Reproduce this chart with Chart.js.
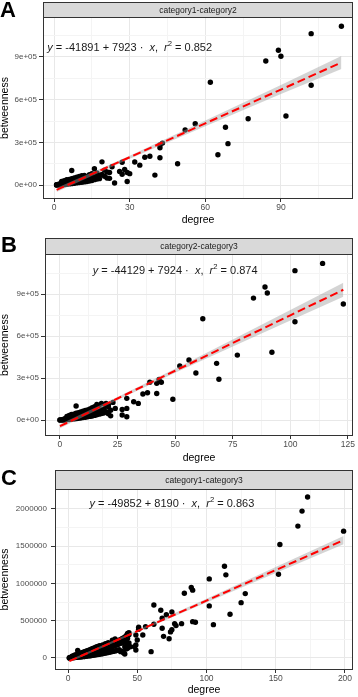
<!DOCTYPE html>
<html>
<head>
<meta charset="utf-8">
<script src="https://cdn.jsdelivr.net/npm/chart.js@4.4.1/dist/chart.umd.min.js"></script>
<style>
  html, body { margin: 0; padding: 0; background: #fff; overflow: hidden; }
  body { width: 358px; height: 697px; position: relative; }
  .panel { position: absolute; left: 0; }
  .tag { position: absolute; font: bold 22px/22px "Liberation Sans", Arial, sans-serif; color: #000; z-index: 2; }
</style>
</head>
<body>
<div class="panel" style="top:0"><canvas id="chartA" width="358" height="228"></canvas></div>
<div class="panel" style="top:225px"><canvas id="chartB" width="358" height="241"></canvas></div>
<div class="panel" style="top:465px"><canvas id="chartC" width="358" height="232"></canvas></div>
<div class="tag" style="left:0;top:-1px">A</div>
<div class="tag" style="left:1px;top:234px">B</div>
<div class="tag" style="left:1px;top:467px">C</div>
<script>
// panel A: category1-category2
const degA = [
  1,1,1, 2,2,2,2, 3,3,3,3, 4,4,4,4,4,
  5,5,5,5,5, 6,6,6,6,6, 7,7,7,7,7,
  8,8,8,8,8, 9,9,9,9,9, 10,10,10,10,10,
  11,11,11,11, 12,12,12,12,12, 13,13,13, 14,14,14,14,
  15,15,15,15, 16,16,16, 17,17,17, 18,18, 19,19, 20,20,
  21,21, 22,22, 23, 24, 26, 27,27, 28, 29,29, 30, 32,
  34, 36, 38, 40, 42,42,42, 43, 49, 52, 56, 62, 65,
  68, 69, 77, 84, 89, 90, 92, 102,102, 114
];
const btwA = [
  0,2000,1000, 0,3000,8000,1000, 2000,6000,12000,25000, 3000,9000,15000,30000,5000,
  5000,12000,20000,38000,8000, 8000,15000,25000,40000,12000, 10000,20000,30000,45000,102000,
  12000,25000,35000,50000,18000, 15000,28000,40000,55000,22000, 18000,32000,45000,60000,25000,
  20000,35000,48000,65000, 22000,38000,52000,68000,30000, 25000,42000,58000, 28000,45000,62000,72000,
  32000,50000,66000,80000, 38000,55000,115000, 42000,60000,85000, 45000,68000, 163000,75000, 105000,62000,
  92000,50000, 47000,88000, 129000, 14000, 96000, 160000,76000, 110000, 88000,25000, 80000, 162000,
  140000, 195000, 202000, 70000, 192000,262000,281000, 295000, 150000, 387000, 431000, 722000, 213000,
  406000, 291000, 466000, 872000, 947000, 905000, 485000, 1064000,701000, 1116000
];
const fitXA = [1, 30, 60, 90, 114];
const fitYA = [-33968, 195799, 433489, 671179, 861331];
const bandLoA = [-47968, 184799, 413489, 639179, 816331];
const bandHiA = [-19968, 206799, 453489, 703179, 906331];

// panel B: category2-category3
const degB = [
  0,0, 1,1,1, 2,2,2,2, 3,3,3,3, 4,4,4,4,4,
  5,5,5,5,5, 6,6,6,6,6, 7,7,7,7,7, 8,8,8,8,8,
  9,9,9,9,9, 10,10,10,10,10, 11,11,11,11, 12,12,12,12,12,
  13,13,13,13, 14,14,14,14, 15,15,15,15, 16,16,16, 17,17,17, 18,18,18,
  19,19, 20,20,20, 21,21,21, 22,22, 23, 24, 27,27, 29,29,29, 32, 34, 36, 38, 39,
  42,42, 43, 44, 49, 52, 56, 59, 62, 68, 69, 77, 84, 89, 90, 92, 102,102, 114, 123
];
const btwB = [
  0,0, 0,1000,3000, 0,4000,9000,2000, 2000,7000,14000,26000, 3000,10000,18000,32000,6000,
  5000,13000,22000,40000,9000, 8000,16000,27000,42000,13000, 10000,22000,32000,48000,100000, 12000,26000,37000,52000,18000,
  15000,30000,42000,58000,22000, 18000,34000,47000,63000,26000, 20000,37000,50000,68000, 23000,40000,55000,72000,30000,
  26000,45000,61000,80000, 29000,48000,65000,88000, 33000,52000,70000,95000, 38000,58000,112000, 42000,64000,105000, 46000,72000,118000,
  80000,50000, 119000,60000,100000, 95000,45000,110000, 70000,30000, 126000, 83000, 76000,36000, 155000,83000,24000, 131000, 119000, 186000, 195000, 270000,
  190000,262000, 290000, 270000, 148000, 386000, 429000, 336000, 724000, 405000, 291000, 464000, 871000, 950000, 907000, 484000, 1067000,702000, 1119000, 829000
];
const fitXB = [0, 25, 50, 75, 100, 123];
const fitYB = [-44129, 153971, 352071, 550171, 748271, 930523];
const bandLoB = [-58129, 142971, 337071, 525171, 710271, 880523];
const bandHiB = [-30129, 164971, 367071, 575171, 786271, 980523];

// panel C: category1-category3
const degC = [
  1,1,1, 2,2,2, 3,3,3,3, 4,4,4,4, 5,5,5,5, 6,6,6,6, 7,7,7,7,7,
  8,8,8,8, 9,9,9,9, 10,10,10,10, 11,11,11,11, 12,12,12,12,
  13,13,13,13, 14,14,14,14, 15,15,15,15, 16,16,16,16, 17,17,17,17,
  18,18,18,18, 19,19,19,19, 20,20,20,20, 21,21,21,21, 22,22,22,22, 23,23,23,23,
  24,24,24, 25,25,25,25, 26,26,26, 27,27,27,27, 28,28,28, 29,29,29,29, 30,30,30,
  31,31,31, 32,32,32,32, 33,33,33, 34,34,34,34, 35,35,35, 36,36,36,36, 37,37,37,
  38,38,38, 39,39,39, 40,40,40, 41,41,41, 42,42,42, 43,43,43,43, 44,44,44, 45,
  48, 49,49,49, 50, 51,51, 54, 56, 60, 62,62, 67, 68,68, 69, 71, 73, 74, 75,75, 77, 78, 82,
  84, 89, 90,90, 92, 102,102, 105, 113, 114, 117, 125, 128, 152, 153, 166, 169, 173, 199
];
const btwC = [
  0,1000,3000, 0,4000,10000, 2000,8000,15000,25000, 4000,12000,20000,32000, 6000,15000,25000,40000, 8000,18000,30000,45000, 10000,22000,35000,52000,100000,
  12000,26000,40000,58000, 14000,30000,45000,65000, 16000,34000,50000,72000, 18000,38000,55000,78000, 20000,42000,60000,85000,
  22000,46000,66000,92000, 25000,50000,72000,98000, 28000,55000,78000,105000, 30000,60000,85000,112000, 33000,65000,92000,120000,
  36000,70000,98000,128000, 40000,75000,105000,136000, 42000,80000,112000,145000, 45000,86000,118000,150000, 48000,92000,125000,158000, 52000,98000,132000,165000,
  55000,104000,140000, 58000,110000,148000,175000, 62000,116000,155000, 66000,122000,162000,190000, 70000,128000,170000, 74000,134000,178000,205000, 78000,140000,185000,
  82000,146000,192000, 86000,152000,200000,240000, 90000,160000,208000, 95000,168000,216000,255000, 100000,175000,225000, 105000,182000,232000,219000, 110000,190000,240000,
  85000,198000,250000, 90000,205000,260000, 70000,210000,270000, 54000,150000,280000, 120000,230000,300000, 130000,264000,330000,180000, 200000,310000,340000, 150000,
  152000, 107000,174000,309000, 242000, 385000,412000, 309000, 420000, 85000, 452000,711000, 640000, 533000,399000, 290000, 580000, 258000, 350000, 617000,380000, 460000, 434000, 460000,
  868000, 944000, 909000,487000, 479000, 1060000,698000, 447000, 1230000, 1114000, 587000, 742000, 863000, 1123000, 1521000, 1768000, 1969000, 2157000, 1700000
];
const fitXC = [1, 50, 100, 150, 199];
const fitYC = [-41662, 359648, 769148, 1178648, 1579958];
const bandLoC = [-56662, 345648, 744148, 1138648, 1524958];
const bandHiC = [-26662, 373648, 794148, 1218648, 1634958];

// fit labels
const intercepts = [-41891, -44129, -49852];
const slopes = [7923, 7924, 8190];
const r2s = [0.852, 0.874, 0.863];
const stripNames = ['category1-category2', 'category2-category3', 'category1-category3'];

// ticks
const xMajorA = [0, 30, 60, 90], xMinorA = [15, 45, 75, 105], xLabelsA = ['0', '30', '60', '90'];
const xMajorB = [0, 25, 50, 75, 100, 125], xMinorB = [12.5, 37.5, 62.5, 87.5, 112.5], xLabelsB = ['0', '25', '50', '75', '100', '125'];
const xMajorC = [0, 50, 100, 150, 200], xMinorC = [25, 75, 125, 175], xLabelsC = ['0', '50', '100', '150', '200'];
const yMajorAB = [0, 300000, 600000, 900000], yMinorAB = [150000, 450000, 750000, 1050000], yLabelsAB = ['0e+00', '3e+05', '6e+05', '9e+05'];
const yMajorC = [0, 500000, 1000000, 1500000, 2000000], yMinorC = [250000, 750000, 1250000, 1750000], yLabelsC = ['0', '500000', '1000000', '1500000', '2000000'];

const FONT = '"Liberation Sans", Arial, Helvetica, sans-serif';

function tickList(majors, minors) {
    return majors.map(v => ({ value: v, minor: false }))
        .concat(minors.map(v => ({ value: v, minor: true })))
        .sort((a, b) => a.value - b.value);
}

function labelOf(majors, labels, v) {
    const i = majors.indexOf(v);
    return i >= 0 ? labels[i] : '';
}

const gridOpts = {
    color: c => (c.tick && c.tick.minor) ? '#f4f4f4' : '#e8e8e8',
    lineWidth: 1,
    tickLength: 4,
    tickWidth: 1,
    tickColor: c => (c.tick && c.tick.minor) ? 'rgba(0,0,0,0)' : '#333333'
};

// strip on top, equation and panel border
const panelDeco = {
    id: 'panelDeco',
    beforeDraw(chart, args, o) {
        const { ctx, chartArea: ca } = chart;
        ctx.save();
        ctx.fillStyle = '#d9d9d9';
        ctx.fillRect(ca.left, o.stripTop, ca.right - ca.left, ca.top - o.stripTop);
        ctx.strokeStyle = '#333333';
        ctx.lineWidth = 1;
        ctx.strokeRect(ca.left + 0.5, o.stripTop + 0.5, ca.right - ca.left - 1, ca.top - o.stripTop);
        ctx.fillStyle = '#1a1a1a';
        ctx.font = '8.5px ' + FONT;
        ctx.textAlign = 'center';
        ctx.textBaseline = 'middle';
        ctx.fillText(o.strip, (ca.left + ca.right) / 2, (o.stripTop + ca.top) / 2 + 1);
        ctx.restore();
    },
    afterDatasetsDraw(chart, args, o) {
        const { ctx, chartArea: ca, scales } = chart;
        ctx.save();
        const size = 11;
        const segs = [
            ['y', 'italic'],
            [' = ' + o.a + ' + ' + o.b + ' \u00b7  ', ''],
            ['x', 'italic'],
            [',  ', ''],
            ['r', 'italic'],
            ['2', 'sup'],
            [' = ' + o.r2.toFixed(3), '']
        ];
        const fontFor = s => s === 'italic' ? 'italic ' + size + 'px ' + FONT
            : s === 'sup' ? (size * 0.7) + 'px ' + FONT : size + 'px ' + FONT;
        let total = 0;
        segs.forEach(s => { ctx.font = fontFor(s[1]); total += ctx.measureText(s[0]).width; });
        let x = scales.x.getPixelForValue(o.eqX) - total / 2;
        const y = scales.y.getPixelForValue(o.eqY);
        ctx.fillStyle = '#1a1a1a';
        ctx.textBaseline = 'middle';
        ctx.textAlign = 'left';
        segs.forEach(s => {
            ctx.font = fontFor(s[1]);
            ctx.fillText(s[0], x, s[1] === 'sup' ? y - 4 : y);
            x += ctx.measureText(s[0]).width;
        });
        ctx.strokeStyle = '#333333';
        ctx.lineWidth = 1;
        ctx.strokeRect(ca.left + 0.5, ca.top + 0.5, ca.right - ca.left - 1, ca.bottom - ca.top - 1);
        ctx.restore();
    }
};

function drawPanel(id, p) {
    const pts = p.deg.map((d, i) => ({ x: d, y: p.btw[i] }));
    new Chart(document.getElementById(id), {
        type: 'scatter',
        data: {
            datasets: [
                { data: pts, backgroundColor: '#000', borderWidth: 0, pointRadius: 2.7, order: 3 },
                { type: 'line', data: p.fitX.map((d, i) => ({ x: d, y: p.hi[i] })), borderColor: 'rgba(0,0,0,0)', borderWidth: 0, pointRadius: 0, fill: false, order: 2 },
                { type: 'line', data: p.fitX.map((d, i) => ({ x: d, y: p.lo[i] })), borderColor: 'rgba(0,0,0,0)', borderWidth: 0, pointRadius: 0, fill: '-1', backgroundColor: 'rgba(160,160,160,0.45)', order: 2 },
                { type: 'line', data: p.fitX.map((d, i) => ({ x: d, y: p.fit[i] })), borderColor: '#ff0000', borderWidth: 2, borderDash: [8, 4], pointRadius: 0, fill: false, order: 1 }
            ]
        },
        options: {
            responsive: false,
            animation: false,
            events: [],
            layout: { padding: { top: p.padTop, right: 5, left: 0, bottom: 0 } },
            plugins: {
                legend: { display: false },
                tooltip: { enabled: false },
                panelDeco: { strip: p.strip, stripTop: p.stripTop, a: p.a, b: p.b, r2: p.r2, eqX: p.eqX, eqY: p.eqY }
            },
            scales: {
                x: {
                    type: 'linear', min: p.xMin, max: p.xMax, bounds: 'data',
                    afterBuildTicks: ax => { ax.ticks = tickList(p.xMajor, p.xMinor); },
                    afterFit: ax => { ax.height = p.xAxisH; ax.paddingLeft = 0; ax.paddingRight = 0; },
                    grid: Object.assign({}, gridOpts, { tickLength: 3 }),
                    border: { display: false },
                    ticks: {
                        autoSkip: false, maxRotation: 0, padding: 1, color: '#4d4d4d',
                        font: { family: FONT, size: 8.5 },
                        callback: v => labelOf(p.xMajor, p.xLabels, v)
                    },
                    title: { display: true, text: 'degree', color: '#000', font: { family: FONT, size: 10.5 }, padding: { top: 0, bottom: p.titlePad } }
                },
                y: {
                    type: 'linear', min: p.yMin, max: p.yMax, bounds: 'data',
                    afterBuildTicks: ax => { ax.ticks = tickList(p.yMajor, p.yMinor); },
                    afterFit: ax => { ax.width = p.yAxisW; ax.paddingTop = 0; ax.paddingBottom = 0; },
                    grid: gridOpts,
                    border: { display: false },
                    ticks: {
                        autoSkip: false, padding: p.yTickPad, color: '#4d4d4d',
                        font: { family: FONT, size: 8 },
                        callback: v => labelOf(p.yMajor, p.yLabels, v)
                    },
                    title: { display: true, text: 'betweenness', color: '#000', font: { family: FONT, size: 10.5, lineHeight: 1 }, padding: 0 }
                }
            }
        },
        plugins: [panelDeco]
    });
}

drawPanel('chartA', {
    deg: degA, btw: btwA, fitX: fitXA, fit: fitYA, lo: bandLoA, hi: bandHiA,
    strip: stripNames[0], a: intercepts[0], b: slopes[0], r2: r2s[0], eqX: 30, eqY: 966000,
    xMin: -4.4, xMax: 118.6, yMin: -98000, yMax: 1181000,
    xMajor: xMajorA, xMinor: xMinorA, xLabels: xLabelsA,
    yMajor: yMajorAB, yMinor: yMinorAB, yLabels: yLabelsAB,
    padTop: 17, stripTop: 2, xAxisH: 29, yAxisW: 43, yTickPad: 2, titlePad: 2
});
drawPanel('chartB', {
    deg: degB, btw: btwB, fitX: fitXB, fit: fitYB, lo: bandLoB, hi: bandHiB,
    strip: stripNames[1], a: intercepts[1], b: slopes[1], r2: r2s[1], eqX: 50, eqY: 1064000,
    xMin: -6.5, xMax: 127.2, yMin: -114000, yMax: 1186000,
    xMajor: xMajorB, xMinor: xMinorB, xLabels: xLabelsB,
    yMajor: yMajorAB, yMinor: yMinorAB, yLabels: yLabelsAB,
    padTop: 29, stripTop: 13, xAxisH: 30, yAxisW: 45, yTickPad: 2, titlePad: 2
});
drawPanel('chartC', {
    deg: degC, btw: btwC, fitX: fitXC, fit: fitYC, lo: bandLoC, hi: bandHiC,
    strip: stripNames[2], a: intercepts[2], b: slopes[2], r2: r2s[2], eqX: 75, eqY: 2066000,
    xMin: -9.4, xMax: 205.8, yMin: -161000, yMax: 2265000,
    xMajor: xMajorC, xMinor: xMinorC, xLabels: xLabelsC,
    yMajor: yMajorC, yMinor: yMinorC, yLabels: yLabelsC,
    padTop: 24, stripTop: 5, xAxisH: 27, yAxisW: 55, yTickPad: 4, titlePad: 1
});
</script>
</body>
</html>
